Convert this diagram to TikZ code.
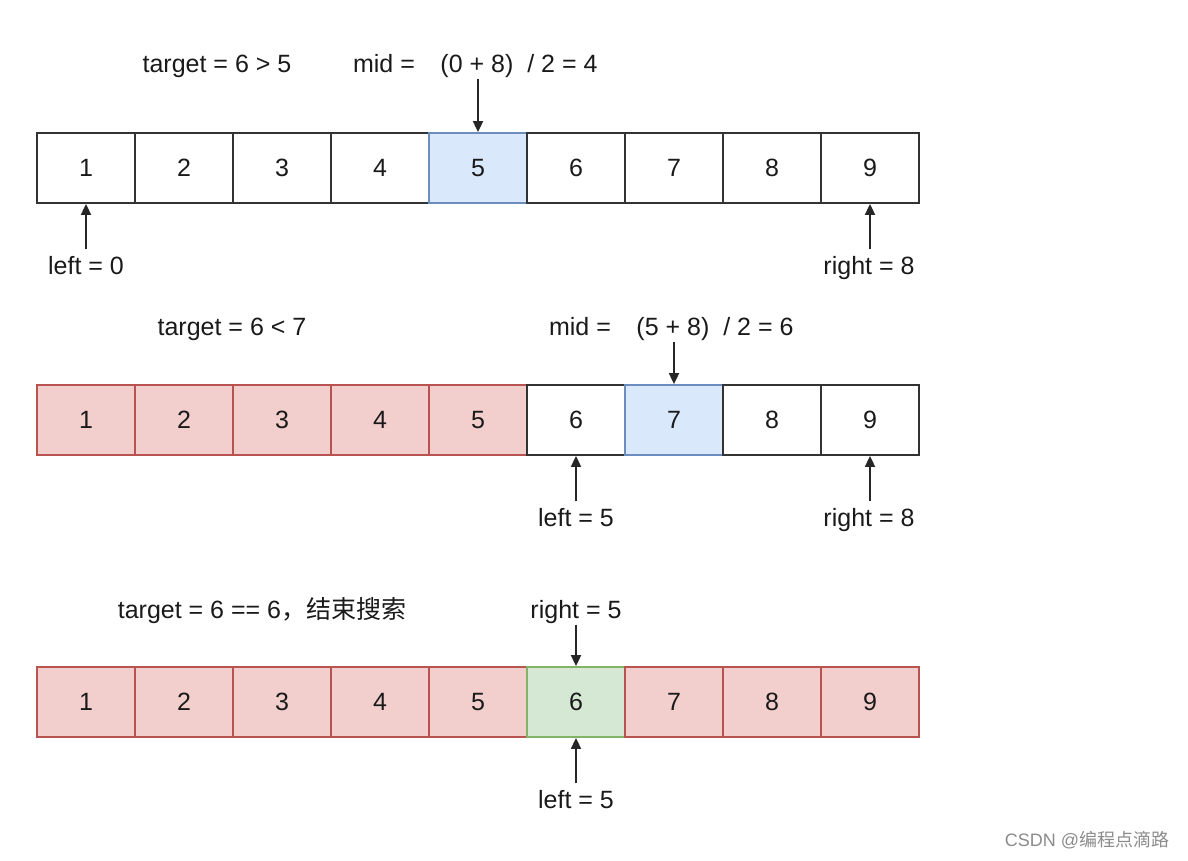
\documentclass[tikz,border=0pt]{standalone}
\usepackage{fontspec}
\setmainfont{Liberation Sans}
\newfontfamily\cjk{Noto Sans CJK SC}
\usetikzlibrary{arrows.meta}
\definecolor{bluefill}{HTML}{DAE8FC}
\definecolor{bluedraw}{HTML}{6C8EBF}
\definecolor{redfill}{HTML}{F2CFCD}
\definecolor{reddraw}{HTML}{B85450}
\definecolor{greenfill}{HTML}{D5E8D4}
\definecolor{greendraw}{HTML}{82B366}
\definecolor{txt}{HTML}{1A1A1A}
\tikzset{
  cell/.style={draw=black!80, line width=1.8pt, minimum width=98pt, minimum height=70pt, inner sep=0pt, font=\fontsize{25}{30}\selectfont, text=txt},
  bluecell/.style={cell, fill=bluefill, draw=bluedraw},
  redcell/.style={cell, fill=redfill, draw=reddraw},
  greencell/.style={cell, fill=greenfill, draw=greendraw},
  lbl/.style={font=\fontsize{25}{30}\selectfont, text=txt, inner sep=1pt, text height=24pt, text depth=5pt},
  ptr/.style={-{Triangle[length=11pt,width=10pt]}, line width=1.8pt, draw=black!85},
}
\begin{document}
\begin{tikzpicture}[x=1pt,y=-1pt]
\useasboundingbox (0,0) rectangle (1188,860);
\fill[white] (0,0) rectangle (1188,860);
% Row 1
\foreach \i in {1,...,9} {
  \pgfmathsetmacro{\cx}{86+98*(\i-1)}
  \ifnum\i=5
    \node[bluecell] (r1c\i) at (\cx,168) {\i};
  \else
    \node[cell] (r1c\i) at (\cx,168) {\i};
  \fi
}
\node[lbl] (t1) at (217,63) {target = 6 > 5};
\node[lbl] (m1) at (384,63) {mid =};
\node[lbl] (e1) at (519,63) {(0 + 8)\ \ / 2 = 4};
\draw[ptr] (r1c5 |- e1.south) -- (r1c5.north);
\node[lbl] (l1) at (86,265) {left = 0};
\draw[ptr] (l1.north) -- (r1c1.south);
\node[lbl] (g1) at (869,265) {right = 8};
\draw[ptr] (r1c9 |- g1.north) -- (r1c9.south);
% Row 2
\foreach \i in {1,...,9} {
  \pgfmathsetmacro{\cx}{86+98*(\i-1)}
  \ifnum\i<6
    \node[redcell] (r2c\i) at (\cx,420) {\i};
  \else\ifnum\i=7
    \node[bluecell] (r2c\i) at (\cx,420) {\i};
  \else
    \node[cell] (r2c\i) at (\cx,420) {\i};
  \fi\fi
}
\node[lbl] (t2) at (232,326) {target = 6 < 7};
\node[lbl] (m2) at (580,326) {mid =};
\node[lbl] (e2) at (715,326) {(5 + 8)\ \ / 2 = 6};
\draw[ptr] (r2c7 |- e2.south) -- (r2c7.north);
\node[lbl] (l2) at (576,517) {left = 5};
\draw[ptr] (r2c6 |- l2.north) -- (r2c6.south);
\node[lbl] (g2) at (869,517) {right = 8};
\draw[ptr] (r2c9 |- g2.north) -- (r2c9.south);
% Row 3
\foreach \i in {1,...,9} {
  \pgfmathsetmacro{\cx}{86+98*(\i-1)}
  \ifnum\i=6
    \node[greencell] (r3c\i) at (\cx,702) {\i};
  \else
    \node[redcell] (r3c\i) at (\cx,702) {\i};
  \fi
}
\node[lbl] (t3) at (262,609) {target = 6 == 6{\cjk ，结束搜索}};
\node[lbl] (g3) at (576,609) {right = 5};
\draw[ptr] (r3c6 |- g3.south) -- (r3c6.north);
\node[lbl] (l3) at (576,799) {left = 5};
\draw[ptr] (r3c6 |- l3.north) -- (r3c6.south);
% watermark
\node[font=\fontsize{18}{22}\selectfont, text=black!45, inner sep=0pt] (wm) at (1087,840) {CSDN @{\cjk 编程点滴路}};
\end{tikzpicture}
\end{document}
